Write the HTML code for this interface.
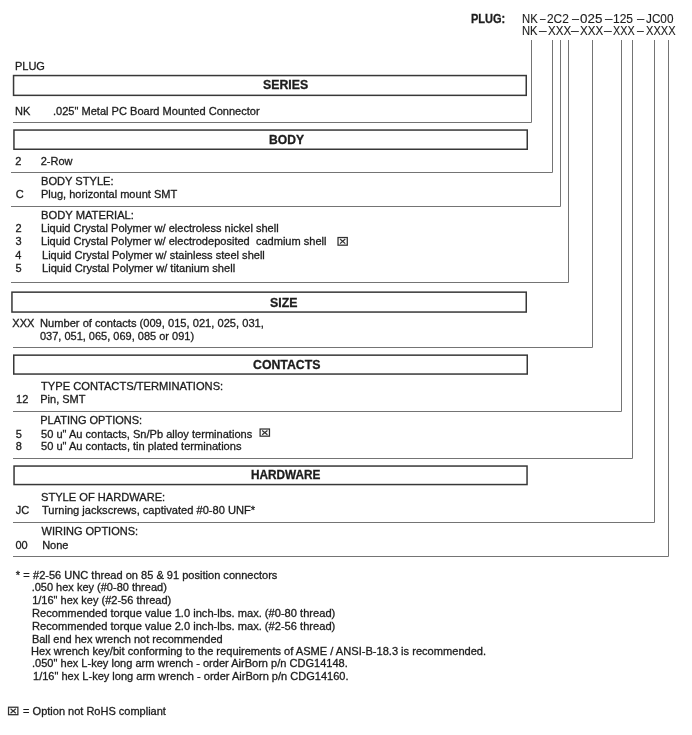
<!DOCTYPE html><html><head><meta charset="utf-8"><style>
html,body{margin:0;padding:0;background:#fff;width:692px;height:735px;overflow:hidden;position:relative}
#w{position:absolute;left:0;top:0;width:692px;height:735px;filter:grayscale(1)}
.t{position:absolute;white-space:pre;font-family:"Liberation Sans",sans-serif;color:#1c1c1c;-webkit-text-stroke:0.3px #1c1c1c;transform-origin:0 0}
</style></head><body><div id="w">
<svg width="692" height="735" style="position:absolute;left:0;top:0"><rect x="13.55" y="75.55" width="512.70" height="19.80" fill="none" stroke="#383838" stroke-width="1.5"/><rect x="13.95" y="130.05" width="513.30" height="19.20" fill="none" stroke="#383838" stroke-width="1.5"/><rect x="11.95" y="292.15" width="514.30" height="19.90" fill="none" stroke="#383838" stroke-width="1.5"/><rect x="13.75" y="355.15" width="513.50" height="18.90" fill="none" stroke="#383838" stroke-width="1.5"/><rect x="14.05" y="466.05" width="513.00" height="18.50" fill="none" stroke="#383838" stroke-width="1.5"/><path d="M13 122.5H531.5V40" fill="none" stroke="#747474" stroke-width="1"/><path d="M11 172.5H552.5V40" fill="none" stroke="#747474" stroke-width="1"/><path d="M11 206.5H560.5V40" fill="none" stroke="#747474" stroke-width="1"/><path d="M11 282.5H568.5V40" fill="none" stroke="#747474" stroke-width="1"/><path d="M13 347.5H592.5V40" fill="none" stroke="#747474" stroke-width="1"/><path d="M13 411.5H621.5V40" fill="none" stroke="#747474" stroke-width="1"/><path d="M13 458.5H632.5V40" fill="none" stroke="#747474" stroke-width="1"/><path d="M13 522.5H654.5V40" fill="none" stroke="#747474" stroke-width="1"/><path d="M13 556.5H668.5V40" fill="none" stroke="#747474" stroke-width="1"/><rect x="338.02" y="237.53" width="9.25" height="7.65" fill="none" stroke="#303030" stroke-width="1.25"/><path d="M340.02 239.04L345.27 243.66M345.27 239.04L340.02 243.66" stroke="#303030" stroke-width="1.2"/><rect x="260.12" y="429.02" width="9.35" height="7.15" fill="none" stroke="#303030" stroke-width="1.25"/><path d="M262.15 430.42L267.45 434.78M267.45 430.42L262.15 434.78" stroke="#303030" stroke-width="1.2"/><rect x="8.53" y="707.23" width="9.35" height="7.45" fill="none" stroke="#303030" stroke-width="1.25"/><path d="M10.55 708.69L15.85 713.21M15.85 708.69L10.55 713.21" stroke="#303030" stroke-width="1.2"/></svg>
<div class="t" style="left:470.85px;top:11.89px;font-size:12.5px;line-height:14.36px;font-weight:bold;transform:scaleX(0.8807)">PLUG:</div>
<div class="t" style="left:521.60px;top:11.89px;font-size:12.5px;line-height:14.36px;-webkit-text-stroke:0.12px #1c1c1c;transform:scaleX(0.9010)">NK</div>
<div class="t" style="left:539.59px;top:11.89px;font-size:12.5px;line-height:14.36px;-webkit-text-stroke:0.12px #1c1c1c;transform:scaleX(0.7928)">–</div>
<div class="t" style="left:547.21px;top:11.89px;font-size:12.5px;line-height:14.36px;-webkit-text-stroke:0.12px #1c1c1c;transform:scaleX(0.9522)">2C2</div>
<div class="t" style="left:572.39px;top:11.89px;font-size:12.5px;line-height:14.36px;-webkit-text-stroke:0.12px #1c1c1c;transform:scaleX(1.0072)">–</div>
<div class="t" style="left:579.87px;top:11.89px;font-size:12.5px;line-height:14.36px;-webkit-text-stroke:0.12px #1c1c1c;transform:scaleX(1.0725)">025</div>
<div class="t" style="left:605.09px;top:11.89px;font-size:12.5px;line-height:14.36px;-webkit-text-stroke:0.12px #1c1c1c;transform:scaleX(1.0734)">–</div>
<div class="t" style="left:613.30px;top:11.89px;font-size:12.5px;line-height:14.36px;-webkit-text-stroke:0.12px #1c1c1c;transform:scaleX(0.9611)">125</div>
<div class="t" style="left:637.29px;top:11.89px;font-size:12.5px;line-height:14.36px;-webkit-text-stroke:0.12px #1c1c1c;transform:scaleX(1.0402)">–</div>
<div class="t" style="left:646.15px;top:11.89px;font-size:12.5px;line-height:14.36px;-webkit-text-stroke:0.12px #1c1c1c;transform:scaleX(0.9407)">JC00</div>
<div class="t" style="left:522.02px;top:23.99px;font-size:12.5px;line-height:14.36px;-webkit-text-stroke:0.12px #1c1c1c;transform:scaleX(0.8946)">NK</div>
<div class="t" style="left:538.79px;top:23.99px;font-size:12.5px;line-height:14.36px;-webkit-text-stroke:0.12px #1c1c1c;transform:scaleX(1.0908)">–</div>
<div class="t" style="left:547.76px;top:23.99px;font-size:12.5px;line-height:14.36px;-webkit-text-stroke:0.12px #1c1c1c;transform:scaleX(0.9226)">XXX</div>
<div class="t" style="left:571.39px;top:23.99px;font-size:12.5px;line-height:14.36px;-webkit-text-stroke:0.12px #1c1c1c;transform:scaleX(1.1097)">–</div>
<div class="t" style="left:579.67px;top:23.99px;font-size:12.5px;line-height:14.36px;-webkit-text-stroke:0.12px #1c1c1c;transform:scaleX(0.9284)">XXX</div>
<div class="t" style="left:604.29px;top:23.99px;font-size:12.5px;line-height:14.36px;-webkit-text-stroke:0.12px #1c1c1c;transform:scaleX(1.1097)">–</div>
<div class="t" style="left:613.08px;top:23.99px;font-size:12.5px;line-height:14.36px;-webkit-text-stroke:0.12px #1c1c1c;transform:scaleX(0.8650)">XXX</div>
<div class="t" style="left:636.69px;top:23.99px;font-size:12.5px;line-height:14.36px;-webkit-text-stroke:0.12px #1c1c1c;transform:scaleX(0.9704)">–</div>
<div class="t" style="left:646.16px;top:23.99px;font-size:12.5px;line-height:14.36px;-webkit-text-stroke:0.12px #1c1c1c;transform:scaleX(0.8850)">XXXX</div>
<div class="t" style="left:14.98px;top:59.75px;font-size:11px;line-height:12.64px">PLUG</div>
<div class="t" style="left:14.98px;top:104.84px;font-size:11px;line-height:12.64px">NK</div>
<div class="t" style="left:52.94px;top:104.84px;font-size:11px;line-height:12.64px;transform:scaleX(1.0046)">.025&quot; Metal PC Board Mounted Connector</div>
<div class="t" style="left:15.22px;top:154.84px;font-size:11px;line-height:12.64px">2</div>
<div class="t" style="left:40.71px;top:154.84px;font-size:11px;line-height:12.64px">2-Row</div>
<div class="t" style="left:40.54px;top:174.74px;font-size:11px;line-height:12.64px;transform:scaleX(1.0094)">BODY STYLE:</div>
<div class="t" style="left:15.71px;top:188.24px;font-size:11px;line-height:12.64px">C</div>
<div class="t" style="left:41.15px;top:188.24px;font-size:11px;line-height:12.64px;transform:scaleX(1.0035)">Plug, horizontal mount SMT</div>
<div class="t" style="left:41.28px;top:208.84px;font-size:11px;line-height:12.64px;transform:scaleX(1.0183)">BODY MATERIAL:</div>
<div class="t" style="left:15.52px;top:222.44px;font-size:11px;line-height:12.64px">2</div>
<div class="t" style="left:41.35px;top:222.44px;font-size:11px;line-height:12.64px;transform:scaleX(1.0045)">Liquid Crystal Polymer w/ electroless nickel shell</div>
<div class="t" style="left:15.38px;top:235.44px;font-size:11px;line-height:12.64px">3</div>
<div class="t" style="left:41.19px;top:235.44px;font-size:11px;line-height:12.64px;transform:scaleX(1.0042)">Liquid Crystal Polymer w/ electrodeposited  cadmium shell</div>
<div class="t" style="left:15.36px;top:248.74px;font-size:11px;line-height:12.64px">4</div>
<div class="t" style="left:42.15px;top:248.74px;font-size:11px;line-height:12.64px;transform:scaleX(1.0041)">Liquid Crystal Polymer w/ stainless steel shell</div>
<div class="t" style="left:15.54px;top:261.75px;font-size:11px;line-height:12.64px">5</div>
<div class="t" style="left:42.14px;top:261.75px;font-size:11px;line-height:12.64px;transform:scaleX(1.0094)">Liquid Crystal Polymer w/ titanium shell</div>
<div class="t" style="left:12.37px;top:316.94px;font-size:11px;line-height:12.64px">XXX</div>
<div class="t" style="left:40.14px;top:316.94px;font-size:11px;line-height:12.64px;transform:scaleX(1.0113)">Number of contacts (009, 015, 021, 025, 031,</div>
<div class="t" style="left:39.95px;top:329.65px;font-size:11px;line-height:12.64px">037, 051, 065, 069, 085 or 091)</div>
<div class="t" style="left:40.76px;top:379.75px;font-size:11px;line-height:12.64px;transform:scaleX(1.0128)">TYPE CONTACTS/TERMINATIONS:</div>
<div class="t" style="left:16.11px;top:393.15px;font-size:11px;line-height:12.64px">12</div>
<div class="t" style="left:40.26px;top:393.15px;font-size:11px;line-height:12.64px">Pin, SMT</div>
<div class="t" style="left:40.26px;top:413.94px;font-size:11px;line-height:12.64px">PLATING OPTIONS:</div>
<div class="t" style="left:15.64px;top:427.65px;font-size:11px;line-height:12.64px">5</div>
<div class="t" style="left:40.52px;top:427.65px;font-size:11px;line-height:12.64px;transform:scaleX(1.0061)">50 u&quot; Au contacts, Sn/Pb alloy terminations</div>
<div class="t" style="left:15.74px;top:439.65px;font-size:11px;line-height:12.64px">8</div>
<div class="t" style="left:40.52px;top:439.65px;font-size:11px;line-height:12.64px;transform:scaleX(1.0075)">50 u&quot; Au contacts, tin plated terminations</div>
<div class="t" style="left:41.16px;top:490.84px;font-size:11px;line-height:12.64px;transform:scaleX(1.0094)">STYLE OF HARDWARE:</div>
<div class="t" style="left:15.72px;top:504.05px;font-size:11px;line-height:12.64px">JC</div>
<div class="t" style="left:41.65px;top:504.05px;font-size:11px;line-height:12.64px;transform:scaleX(1.0096)">Turning jackscrews, captivated #0-80 UNF*</div>
<div class="t" style="left:41.51px;top:524.84px;font-size:11px;line-height:12.64px">WIRING OPTIONS:</div>
<div class="t" style="left:15.40px;top:538.74px;font-size:11px;line-height:12.64px">00</div>
<div class="t" style="left:42.18px;top:538.74px;font-size:11px;line-height:12.64px">None</div>
<div class="t" style="left:263.48px;top:79.34px;font-size:12px;line-height:13.79px;font-weight:bold;transform:scaleX(1.0242)">SERIES</div>
<div class="t" style="left:268.50px;top:133.84px;font-size:12px;line-height:13.79px;font-weight:bold;transform:scaleX(1.0086)">BODY</div>
<div class="t" style="left:270.24px;top:296.54px;font-size:12px;line-height:13.79px;font-weight:bold;transform:scaleX(1.0267)">SIZE</div>
<div class="t" style="left:252.85px;top:358.64px;font-size:12px;line-height:13.79px;font-weight:bold;transform:scaleX(1.0257)">CONTACTS</div>
<div class="t" style="left:250.87px;top:469.44px;font-size:12px;line-height:13.79px;font-weight:bold;transform:scaleX(0.9833)">HARDWARE</div>
<div class="t" style="left:15.81px;top:568.74px;font-size:11px;line-height:12.64px">* =</div>
<div class="t" style="left:32.85px;top:568.74px;font-size:11px;line-height:12.64px;transform:scaleX(1.0042)">#2-56 UNC thread on 85 &amp; 91 position connectors</div>
<div class="t" style="left:31.67px;top:581.14px;font-size:11px;line-height:12.64px">.050 hex key (#0-80 thread)</div>
<div class="t" style="left:32.20px;top:593.74px;font-size:11px;line-height:12.64px">1/16&quot; hex key (#2-56 thread)</div>
<div class="t" style="left:31.88px;top:606.74px;font-size:11px;line-height:12.64px;transform:scaleX(1.0102)">Recommended torque value 1.0 inch-lbs. max. (#0-80 thread)</div>
<div class="t" style="left:31.88px;top:619.64px;font-size:11px;line-height:12.64px;transform:scaleX(1.0102)">Recommended torque value 2.0 inch-lbs. max. (#2-56 thread)</div>
<div class="t" style="left:31.90px;top:632.74px;font-size:11px;line-height:12.64px">Ball end hex wrench not recommended</div>
<div class="t" style="left:31.38px;top:644.74px;font-size:11px;line-height:12.64px;transform:scaleX(1.0073)">Hex wrench key/bit conforming to the requirements of ASME / ANSI-B-18.3 is recommended.</div>
<div class="t" style="left:31.67px;top:657.24px;font-size:11px;line-height:12.64px;transform:scaleX(1.0042)">.050&quot; hex L-key long arm wrench - order AirBorn p/n CDG14148.</div>
<div class="t" style="left:32.77px;top:669.54px;font-size:11px;line-height:12.64px;transform:scaleX(1.0032)">1/16&quot; hex L-key long arm wrench - order AirBorn p/n CDG14160.</div>
<div class="t" style="left:23.11px;top:705.34px;font-size:11px;line-height:12.64px">= Option not RoHS compliant</div>
</div></body></html>
